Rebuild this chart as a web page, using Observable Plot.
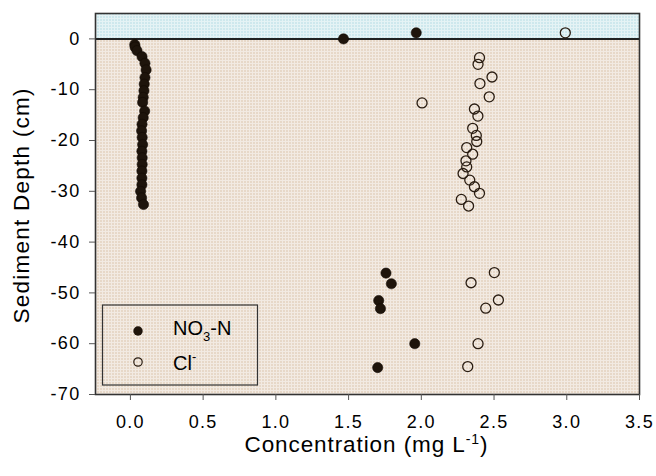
<!DOCTYPE html>
<html><head><meta charset="utf-8">
<script src="https://cdn.jsdelivr.net/npm/d3@7"></script>
<script src="https://cdn.jsdelivr.net/npm/@observablehq/plot@0.6"></script>
<style>body{margin:0;background:#fff}#chart{width:656px;height:476px}</style>
</head><body><div id="chart"></div>
<script>
const xTicks = [0, 0.5, 1.0, 1.5, 2.0, 2.5, 3.0, 3.5];
const yTicks = [0, -10, -20, -30, -40, -50, -60, -70];

// NO3-N
const no3Depth = [1.2, 0, -1.1, -1.6, -2.3, -3.5, -4.8, -6.1, -7.6, -8.9, -10.2, -11.5, -12.5, -14.2, -15.5, -16.8, -18.1, -19.4, -20.8, -22.1, -23.4, -24.7, -26.0, -27.4, -28.7, -30.0, -31.3, -32.6,
  -46.1, -48.2, -51.5, -53.1, -60.0, -64.7];
const no3Conc = [1.965, 1.465, 0.03, 0.032, 0.045, 0.08, 0.1, 0.108, 0.1, 0.095, 0.093, 0.088, 0.084, 0.098, 0.088, 0.08, 0.077, 0.081, 0.084, 0.079, 0.081, 0.081, 0.079, 0.079, 0.079, 0.07, 0.077, 0.09,
  1.757, 1.794, 1.707, 1.719, 1.955, 1.70];

// Cl-
const clDepth = [1.2, -3.7, -5.0, -7.5, -8.8, -11.4, -12.6, -13.8, -15.2, -17.6, -19.0, -20.2, -21.4, -22.7, -24.0, -25.2, -26.5, -27.8, -29.1, -30.4, -31.6, -32.9,
  -46.0, -48.0, -51.4, -53.0, -60.0, -64.5];
const clConc = [2.99, 2.40, 2.39, 2.486, 2.403, 2.467, 2.005, 2.365, 2.389, 2.353, 2.378, 2.381, 2.312, 2.353, 2.307, 2.312, 2.287, 2.333, 2.365, 2.40, 2.275, 2.325,
  2.502, 2.342, 2.53, 2.443, 2.39, 2.319];

const bandSediment = [{top: 0, bottom: -70}];
const bandWater = [{top: 5, bottom: 0}];
const surface = [0];

const no3 = no3Depth.map((d, i) => ({depth: d, conc: no3Conc[i]}));
const cl = clDepth.map((d, i) => ({depth: d, conc: clConc[i]}));

const font = "'Liberation Sans', Arial, Helvetica, sans-serif";

const plot = Plot.plot({
  width: 656, height: 476,
  marginTop: 13, marginLeft: 95, marginRight: 17, marginBottom: 82,
  x: {domain: [-0.24, 3.5]},
  y: {domain: [-70, 5]},
  style: {fontFamily: font, fontSize: "18px", color: "#000", background: "#fff", overflow: "visible"},
  marks: [
    Plot.rect(bandSediment, {y1: "bottom", y2: "top", fill: "url(#sedPat)"}),
    Plot.rect(bandWater, {y1: "bottom", y2: "top", fill: "url(#watPat)"}),
    Plot.ruleY(surface, {stroke: "#222", strokeWidth: 2}),
    Plot.frame({stroke: "#333", strokeWidth: 1.6}),
    Plot.axisX({ticks: xTicks, tickFormat: d3.format(".1f"), tickSize: 6, tickPadding: 15, label: null, stroke: "#555", fill: "#000", fontSize: 18}),
    Plot.axisY({ticks: yTicks, tickFormat: d => String(d), tickSize: 6, tickPadding: 9, label: null, stroke: "#555", fill: "#000", fontSize: 18}),
    Plot.dot(cl, {x: "conc", y: "depth", r: 5, fill: "none", stroke: "#2a1d12", strokeWidth: 1.3}),
    Plot.dot(no3, {x: "conc", y: "depth", r: 5.1, fill: "#1e140b", stroke: "#120a04", strokeWidth: 0.6})
  ]
});

const svg = d3.select(plot);
svg.selectAll("g[aria-label='x-axis tick label'] text, g[aria-label='y-axis tick label'] text")
  .style("letter-spacing", "1.3px");
const defs = svg.insert("defs", ":first-child");
const sp = defs.append("pattern").attr("id", "sedPat").attr("patternUnits", "userSpaceOnUse").attr("width", 3).attr("height", 3);
sp.append("rect").attr("width", 3).attr("height", 3).attr("fill", "#e7d8c8");
sp.append("rect").attr("width", 1).attr("height", 3).attr("fill", "#f2eae2");
sp.append("rect").attr("width", 3).attr("height", 1).attr("fill", "#f2eae2");
const wp = defs.append("pattern").attr("id", "watPat").attr("patternUnits", "userSpaceOnUse").attr("width", 3).attr("height", 3);
wp.append("rect").attr("width", 3).attr("height", 3).attr("fill", "#cee8ed");
wp.append("rect").attr("width", 1).attr("height", 3).attr("fill", "#e5f3f5");
wp.append("rect").attr("width", 3).attr("height", 1).attr("fill", "#e5f3f5");

// axis titles
const xl = svg.append("text").attr("x", 366).attr("y", 452).attr("text-anchor", "middle")
  .attr("font-family", font).attr("font-size", 22.5).attr("fill", "#000")
  .attr("textLength", 243).attr("lengthAdjust", "spacing");
xl.append("tspan").text("Concentration (mg L");
xl.append("tspan").attr("font-size", 14).attr("dy", -8).text("-1");
xl.append("tspan").attr("dy", 8).text(")");

svg.append("text").attr("transform", "translate(29,206) rotate(-90)").attr("text-anchor", "middle")
  .attr("font-family", font).attr("font-size", 22.5).attr("fill", "#000")
  .attr("textLength", 235).attr("lengthAdjust", "spacing").text("Sediment Depth (cm)");

// legend
const lg = svg.append("g").attr("text-anchor", "start");
lg.append("rect").attr("x", 102.5).attr("y", 305).attr("width", 155).attr("height", 80)
  .attr("fill", "none").attr("stroke", "#333").attr("stroke-width", 1.2);
lg.append("circle").attr("cx", 138).attr("cy", 331).attr("r", 4.7).attr("fill", "#1e140b");
lg.append("circle").attr("cx", 138).attr("cy", 362).attr("r", 4.2).attr("fill", "none").attr("stroke", "#2a1d12").attr("stroke-width", 1.2);
const t1 = lg.append("text").attr("x", 173).attr("y", 335).attr("text-anchor", "start").attr("font-family", font).attr("font-size", 20).attr("fill", "#000");
t1.append("tspan").text("NO");
t1.append("tspan").attr("font-size", 13).attr("dy", 6).text("3");
t1.append("tspan").attr("dy", -6).text("-N");
const t2 = lg.append("text").attr("x", 173).attr("y", 370).attr("text-anchor", "start").attr("font-family", font).attr("font-size", 20).attr("fill", "#000");
t2.append("tspan").text("Cl");
t2.append("tspan").attr("font-size", 13).attr("dy", -9).text("-");

document.getElementById("chart").appendChild(plot);
</script></body></html>
